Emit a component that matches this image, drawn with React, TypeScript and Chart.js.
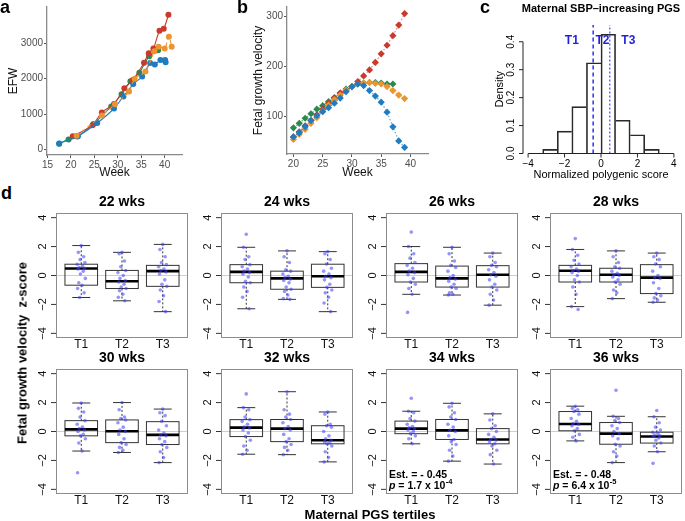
import React, { useEffect, useRef } from "react";
import { Chart, registerables } from "chart.js";

Chart.register(...registerables);

const FONT = '"Liberation Sans", Arial, Helvetica, sans-serif';
Chart.defaults.font.family = FONT;

// ---------- colours ----------
const RED = "#C9392C";
const ORANGE = "#EC9430";
const GREEN = "#2A8A4E";
const BLUE = "#1F7CC0";

// ---------- panel a : EFW ----------
const A_XTICKS = [15, 20, 25, 30, 35, 40];
const A_YTICKS = [0, 1000, 2000, 3000];
const A_WEEK_RED = [20.4, 24.6, 26.6, 29.2, 31.4, 33.2, 35.6, 36.6, 37.6, 38.9, 39.8, 40.8];
const A_EFW_RED = [375, 690, 1050, 1290, 1730, 1960, 2450, 2720, 2850, 3350, 3410, 3800];
const A_WEEK_ORANGE = [21.2, 26.6, 29.4, 32.4, 33.6, 35.9, 37.8, 38.7, 40.0, 40.9, 41.5];
const A_EFW_ORANGE = [390, 960, 1280, 1640, 2000, 2200, 2770, 2900, 2850, 3180, 2900];
const A_WEEK_BLUE = [17.5, 21.5, 25.6, 29.2, 31.2, 33.3, 35.2, 36.9, 37.9, 39.1, 40.1, 40.2];
const A_EFW_BLUE = [175, 380, 750, 1160, 1500, 1850, 2060, 2440, 2400, 2530, 2530, 2460];
const A_WEEK_GREEN = [17.5, 19.5, 21.3, 24.8, 28.6, 30.8, 32.7, 34.6, 36.7, 38.6];
const A_EFW_GREEN = [170, 290, 370, 720, 1220, 1560, 1930, 2170, 2630, 2800];

// ---------- panel b : fetal growth velocity ----------
const B_XTICKS = [20, 25, 30, 35, 40];
const B_YTICKS = [100, 200, 300];
const B_WEEKS = [20, 21, 22, 23, 24, 25, 26, 27, 28, 29, 30, 31, 32, 33, 34, 35, 36, 37, 38, 39];
const B_RED = [60, 70, 82, 93, 104, 115, 127, 137, 147, 152, 160, 170, 181, 193, 208, 225, 242, 261, 282, 305];
const B_ORANGE = [55, 65, 75, 87, 98, 111, 123, 134, 143, 153, 160, 165, 167, 168, 166, 165, 160, 152, 143, 136];
const B_GREEN = [78, 87, 97, 106, 115, 122, 130, 138, 147, 155, 160, 165, 167, 168, 168, 167, 165, 165];
const B_BLUE = [60, 68, 80, 92, 102, 110, 118, 127, 137, 150, 160, 165, 162, 152, 141, 129, 109, 80, 52, 39];

// ---------- panel c : histogram ----------
const C_TITLE = "Maternal SBP\u2013increasing PGS";
const C_BIN_MID = [-2.8, -2.0, -1.2, -0.4, 0.4, 1.2, 2.0, 2.8];
const C_DENSITY = [0.015, 0.08, 0.168, 0.325, 0.427, 0.119, 0.067, 0.015];
const C_TERTILE_CUTS = [-0.43, 0.48];
const C_XTICKS = [-4, -2, 0, 2, 4];
const C_YTICKS = [0, 0.1, 0.2, 0.3, 0.4];
const C_YMAX = 0.46;
const C_TLABEL_X = [-1.6, 0.08, 1.5];
const C_TLABEL_Y = 0.404;

// ---------- panel d : boxplots ----------
const TERTILES = ["T1", "T2", "T3"];
const BOX_YTICKS = [-4, -2, 0, 2, 4];
// [lower whisker, Q1, median, Q3, upper whisker]
const BOX_22 = [[-1.52, -0.67, 0.48, 0.78, 2.07], [-1.75, -0.9, -0.4, 0.35, 1.6], [-2.5, -0.75, 0.3, 0.7, 2.15]];
const BOX_24 = [[-2.3, -0.5, 0.25, 0.75, 1.95], [-1.65, -0.95, -0.2, 0.3, 1.7], [-2.5, -0.82, -0.05, 0.78, 1.65]];
const BOX_26 = [[-1.3, -0.45, 0.25, 0.82, 2.0], [-1.35, -0.8, -0.2, 0.65, 1.95], [-2.05, -0.8, 0.05, 0.68, 1.55]];
const BOX_28 = [[-2.15, -0.45, 0.33, 0.7, 1.8], [-1.6, -0.45, 0.05, 0.5, 1.7], [-1.85, -1.25, -0.15, 0.75, 1.55]];
const BOX_30 = [[-1.35, -0.3, 0.15, 0.75, 1.97], [-1.45, -0.77, 0.02, 0.8, 2.0], [-2.15, -0.9, -0.23, 0.68, 1.55]];
const BOX_32 = [[-1.57, -0.35, 0.27, 0.82, 1.65], [-1.6, -0.7, 0.2, 0.83, 2.75], [-2.1, -0.85, -0.6, 0.4, 1.35]];
const BOX_34 = [[-0.85, -0.15, 0.2, 0.72, 1.4], [-2.05, -0.55, 0.08, 0.83, 1.95], [-2.25, -0.85, -0.55, 0.2, 1.22]];
const BOX_36 = [[-0.65, 0.05, 0.52, 1.38, 1.75], [-2.15, -0.88, -0.15, 0.62, 1.05], [-1.4, -0.8, -0.35, -0.05, 1.02]];

const PTS_22 = [
  [2.07, 1.6, 1.3, 1.1, 0.9, 0.78, 0.65, 0.55, 0.5, 0.45, 0.3, 0.1, -0.2, -0.5, -0.67, -0.9, -1.2, -1.52],
  [1.6, 1.5, 1.0, 0.6, 0.35, 0.2, 0.0, -0.2, -0.35, -0.45, -0.6, -0.8, -0.9, -1.05, -1.3, -1.5, -1.75],
  [2.15, 1.8, 1.3, 0.9, 0.75, 0.6, 0.45, 0.35, 0.25, 0.1, -0.3, -0.6, -0.75, -1.0, -1.4, -1.8, -2.5],
];
const PTS_24 = [
  [2.85, 1.95, 1.3, 1.1, 0.75, 0.6, 0.45, 0.3, 0.2, 0.1, -0.1, -0.4, -0.5, -0.8, -1.1, -1.5, -2.3],
  [1.7, 1.3, 0.9, 0.4, 0.3, 0.1, -0.05, -0.15, -0.25, -0.35, -0.5, -0.8, -0.95, -1.1, -1.35, -1.6, -1.65],
  [1.65, 1.5, 1.1, 0.8, 0.5, 0.3, 0.1, -0.05, -0.15, -0.3, -0.6, -0.82, -1.0, -1.2, -1.5, -1.9, -2.5],
];
const PTS_26 = [
  [3.0, 2.0, 1.5, 1.2, 0.9, 0.7, 0.5, 0.3, 0.2, 0.05, -0.2, -0.45, -0.6, -0.9, -1.3, -2.55],
  [1.95, 1.5, 1.0, 0.7, 0.55, 0.3, 0.0, -0.15, -0.25, -0.4, -0.6, -0.8, -0.9, -1.2, -1.3, -1.35],
  [1.55, 1.3, 0.9, 0.7, 0.6, 0.4, 0.2, 0.05, -0.05, -0.3, -0.6, -0.8, -1.0, -1.3, -1.7, -2.05],
];
const PTS_28 = [
  [2.55, 1.8, 1.4, 1.05, 0.8, 0.6, 0.45, 0.35, 0.3, 0.2, 0.0, -0.3, -0.45, -0.8, -1.3, -2.15, -2.35],
  [1.7, 1.3, 0.9, 0.6, 0.5, 0.3, 0.15, 0.05, 0.0, -0.1, -0.3, -0.45, -0.6, -1.0, -1.2, -1.6],
  [1.55, 1.3, 1.1, 0.8, 0.6, 0.3, 0.0, -0.15, -0.2, -0.5, -0.9, -1.25, -1.4, -1.55, -1.7, -1.85],
];
const PTS_30 = [
  [1.97, 1.6, 1.35, 1.0, 0.75, 0.5, 0.3, 0.2, 0.1, 0.0, -0.2, -0.3, -0.5, -0.8, -1.35, -2.85],
  [2.0, 1.5, 1.0, 0.9, 0.8, 0.6, 0.3, 0.1, 0.0, -0.2, -0.5, -0.77, -0.9, -1.1, -1.3, -1.45],
  [1.55, 1.3, 1.1, 0.7, 0.4, 0.1, -0.1, -0.23, -0.3, -0.5, -0.7, -0.9, -1.1, -1.4, -1.8, -2.15],
];
const PTS_32 = [
  [2.6, 1.65, 1.5, 1.0, 0.82, 0.7, 0.5, 0.3, 0.25, 0.1, -0.1, -0.35, -0.6, -1.0, -1.3, -1.57],
  [2.75, 1.5, 1.2, 1.0, 0.83, 0.6, 0.35, 0.2, 0.1, -0.2, -0.5, -0.7, -0.9, -1.1, -1.3, -1.6],
  [1.35, 1.2, 0.5, 0.4, 0.3, 0.0, -0.3, -0.5, -0.6, -0.7, -0.8, -0.85, -1.0, -1.4, -1.8, -2.1],
];
const PTS_34 = [
  [2.3, 1.4, 1.3, 0.9, 0.72, 0.5, 0.35, 0.25, 0.2, 0.1, 0.0, -0.15, -0.3, -0.5, -0.85],
  [1.95, 1.7, 1.3, 1.0, 0.83, 0.5, 0.3, 0.08, 0.0, -0.3, -0.55, -0.7, -0.9, -1.3, -1.7, -2.05],
  [1.22, 0.8, 0.4, 0.2, 0.0, -0.2, -0.4, -0.55, -0.6, -0.7, -0.85, -1.0, -1.3, -1.6, -2.25],
];
const PTS_36 = [
  [1.75, 1.6, 1.5, 1.38, 1.2, 0.9, 0.7, 0.55, 0.5, 0.4, 0.2, 0.05, -0.2, -0.4, -0.65],
  [2.85, 1.05, 0.9, 0.75, 0.62, 0.4, 0.2, 0.0, -0.15, -0.3, -0.5, -0.88, -1.0, -1.4, -1.7, -2.15],
  [1.45, 1.02, 0.6, 0.3, 0.1, -0.05, -0.15, -0.25, -0.3, -0.35, -0.45, -0.6, -0.8, -1.0, -1.4, -2.2],
];
const EST_34 = "Est. = - 0.45";
const P_34 = [" = 1.7 x 10", "-4"];
const EST_36 = "Est. = - 0.48";
const P_36 = [" = 6.4 x 10", "-5"];

// ---------- layout / style constants ----------
const JITTER = [0, -0.07, 0.06, -0.03, 0.09, -0.1, 0.03, -0.05, 0.08, -0.08, 0.05, -0.02, 0.1, -0.06, 0.02, -0.09, 0.07, -0.04];
const BOX_HALF = 0.4;
const CAP_HALF = 0.22;
const D_LEFTS = [56, 221, 386, 550];
const D_TOPS = [213, 369];
const D_W = 135;
const D_H = 125;
const PAD_L = 34;
const PAD_T = 24;
const PAD_R = 1;
const PAD_B = 16;

const D_PANELS = [
  { title: "22 wks", stats: BOX_22, pts: PTS_22 },
  { title: "24 wks", stats: BOX_24, pts: PTS_24 },
  { title: "26 wks", stats: BOX_26, pts: PTS_26 },
  { title: "28 wks", stats: BOX_28, pts: PTS_28 },
  { title: "30 wks", stats: BOX_30, pts: PTS_30 },
  { title: "32 wks", stats: BOX_32, pts: PTS_32 },
  { title: "34 wks", stats: BOX_34, pts: PTS_34, est: EST_34, p: P_34 },
  { title: "36 wks", stats: BOX_36, pts: PTS_36, est: EST_36, p: P_36 },
];

function seg(ctx: CanvasRenderingContext2D, x1: number, y1: number, x2: number, y2: number) {
  ctx.beginPath();
  ctx.moveTo(x1, y1);
  ctx.lineTo(x2, y2);
  ctx.stroke();
}

function rotText(ctx: CanvasRenderingContext2D, t: string, x: number, y: number) {
  ctx.save();
  ctx.translate(x, y);
  ctx.rotate(-Math.PI / 2);
  ctx.textAlign = "center";
  ctx.textBaseline = "middle";
  ctx.fillText(t, 0, 0);
  ctx.restore();
}

function ggX(min: number, max: number, ticks: number[], title: string, height: number) {
  return {
    type: "linear",
    min,
    max,
    afterBuildTicks: (s: any) => {
      s.ticks = ticks.map((v) => ({ value: v }));
    },
    afterFit: (s: any) => {
      s.height = height;
    },
    grid: { drawOnChartArea: false, drawTicks: true, tickLength: 3, tickColor: "#555", tickWidth: 1 },
    border: { display: true, color: "#8a8a8a", width: 1.3 },
    ticks: { color: "#4d4d4d", font: { size: 10 }, padding: 1, maxRotation: 0, autoSkip: false, callback: (v: any) => String(v) },
    title: { display: true, text: title, color: "#111", font: { size: 12 }, padding: { top: 0, bottom: 0 } },
  };
}

function ggY(min: number, max: number, ticks: number[], title: string, width: number, titlePad: number) {
  return {
    type: "linear",
    min,
    max,
    afterBuildTicks: (s: any) => {
      s.ticks = ticks.map((v) => ({ value: v }));
    },
    afterFit: (s: any) => {
      s.width = width;
    },
    grid: { drawOnChartArea: false, drawTicks: true, tickLength: 3, tickColor: "#555", tickWidth: 1 },
    border: { display: true, color: "#8a8a8a", width: 1.3 },
    ticks: { color: "#4d4d4d", font: { size: 10 }, padding: 1, autoSkip: false, callback: (v: any) => String(v) },
    title: { display: true, text: title, color: "#111", font: { size: 12 }, padding: { top: titlePad, bottom: 0 } },
  };
}

const baseOpts = {
  animation: false,
  responsive: true,
  maintainAspectRatio: false,
  events: [],
};

function makeA() {
  const series = [
    { wk: A_WEEK_ORANGE, v: A_EFW_ORANGE, c: ORANGE, dash: [4, 3] },
    { wk: A_WEEK_BLUE, v: A_EFW_BLUE, c: BLUE, dash: [] },
    { wk: A_WEEK_RED, v: A_EFW_RED, c: RED, dash: [] },
    { wk: A_WEEK_GREEN, v: A_EFW_GREEN, c: GREEN, dash: [] },
  ];
  return {
    type: "scatter",
    data: {
      datasets: series.map((s) => ({
        data: s.wk.map((x, i) => ({ x, y: s.v[i] })),
        showLine: true,
        borderColor: s.c,
        backgroundColor: s.c,
        borderWidth: 1.1,
        borderDash: s.dash,
        tension: 0.3,
        pointRadius: 3,
        pointBorderWidth: 0,
      })),
    },
    options: {
      ...baseOpts,
      layout: { padding: { top: 5, right: 43, left: 0, bottom: 0 } },
      plugins: { legend: { display: false }, tooltip: { enabled: false } },
      scales: {
        x: ggX(14.9, 43.7, A_XTICKS, "Week", 25),
        y: ggY(-150, 4020, A_YTICKS, "EFW", 47, 6),
      },
    },
  };
}

function makeB() {
  const series = [
    { v: B_BLUE, c: BLUE, a: "rgba(31,124,192,0.7)" },
    { v: B_ORANGE, c: ORANGE, a: "rgba(236,148,48,0.7)" },
    { v: B_RED, c: RED, a: "rgba(201,57,44,0.6)" },
    { v: B_GREEN, c: GREEN, a: "rgba(42,138,78,0.7)" },
  ];
  return {
    type: "scatter",
    data: {
      datasets: series.map((s) => ({
        data: s.v.map((y, i) => ({ x: B_WEEKS[i], y })),
        showLine: true,
        borderColor: s.a,
        backgroundColor: s.c,
        borderWidth: 1.2,
        borderDash: [1.5, 2],
        pointStyle: "rectRot",
        pointRadius: 3.6,
        pointBorderWidth: 0,
      })),
    },
    options: {
      ...baseOpts,
      layout: { padding: { top: 6, right: 27, left: 0, bottom: 0 } },
      plugins: { legend: { display: false }, tooltip: { enabled: false } },
      scales: {
        x: ggX(18.9, 43, B_XTICKS, "Week", 26),
        y: ggY(26, 318, B_YTICKS, "Fetal growth velocity", 62, 26),
      },
    },
  };
}

const histPlugin = {
  id: "histAxes",
  afterDraw(chart: any) {
    const { ctx, chartArea: ca } = chart;
    const xs = chart.scales.x;
    const ys = chart.scales.y;
    ctx.save();
    ctx.fillStyle = "#000";
    ctx.strokeStyle = "#222";
    ctx.lineWidth = 1;
    ctx.font = `bold 11px ${FONT}`;
    ctx.textAlign = "center";
    ctx.textBaseline = "middle";
    ctx.fillText(C_TITLE, (ca.left + ca.right) / 2, 8.5);
    const by = ca.bottom;
    seg(ctx, xs.getPixelForValue(C_XTICKS[0]), by, xs.getPixelForValue(C_XTICKS[C_XTICKS.length - 1]), by);
    ctx.font = `10px ${FONT}`;
    C_XTICKS.forEach((v) => {
      const px = xs.getPixelForValue(v);
      seg(ctx, px, by, px, by + 4);
      ctx.fillText(v < 0 ? "\u2212" + Math.abs(v) : String(v), px, by + 10.5);
    });
    seg(ctx, ca.left, ys.getPixelForValue(C_YTICKS[0]), ca.left, ys.getPixelForValue(C_YTICKS[C_YTICKS.length - 1]));
    C_YTICKS.forEach((v) => {
      const py = ys.getPixelForValue(v);
      seg(ctx, ca.left - 4, py, ca.left, py);
      rotText(ctx, v.toFixed(1), ca.left - 11.5, py);
    });
    ctx.font = `11px ${FONT}`;
    rotText(ctx, "Density", 45, (ca.top + ca.bottom) / 2);
    ctx.fillText("Normalized polygenic score", (ca.left + ca.right) / 2, 175);
    ctx.fillStyle = "#1f1fe0";
    ctx.font = `bold 12px ${FONT}`;
    TERTILES.forEach((t, i) => {
      ctx.fillText(t, xs.getPixelForValue(C_TLABEL_X[i]), ys.getPixelForValue(C_TLABEL_Y));
    });
    ctx.restore();
  },
};

function makeC() {
  const last = C_DENSITY.length - 1;
  return {
    type: "bar",
    data: {
      datasets: [
        {
          type: "bar",
          data: C_BIN_MID.map((x, i) => ({ x, y: C_DENSITY[i] })),
          backgroundColor: "rgba(255,255,255,0)",
          borderColor: "#2a2a2a",
          borderSkipped: false,
          borderWidth: (c: any) => {
            const i = c.dataIndex;
            const d = C_DENSITY;
            return {
              top: 1,
              bottom: 0,
              left: i === 0 || d[i] >= d[i - 1] ? 1 : 0,
              right: i === last || d[i] > d[i + 1] ? 1 : 0,
            };
          },
          barPercentage: 1,
          categoryPercentage: 1,
        },
        ...C_TERTILE_CUTS.map((c, i) => ({
          type: "line",
          data: [
            { x: c, y: 0 },
            { x: c, y: C_YMAX },
          ],
          borderColor: i === 0 ? "#2f2ff5" : "#6a6aff",
          borderWidth: 1.5,
          borderDash: i === 0 ? [4, 3] : [2, 2],
          pointRadius: 0,
        })),
      ],
    },
    options: {
      ...baseOpts,
      layout: { padding: { top: 25, right: 6, left: 68, bottom: 26.5 } },
      plugins: { legend: { display: false }, tooltip: { enabled: false } },
      scales: {
        x: { type: "linear", min: -4.28, max: 4.28, display: false, offset: false },
        y: { type: "linear", min: 0, max: C_YMAX, display: false },
      },
    },
    plugins: [histPlugin],
  };
}

function boxPlugin(p: any) {
  return {
    id: "boxPanel",
    beforeDatasetsDraw(chart: any) {
      const { ctx, chartArea: ca } = chart;
      const xs = chart.scales.x;
      const ys = chart.scales.y;
      ctx.save();
      const y0 = ys.getPixelForValue(0);
      ctx.strokeStyle = "#cfcfcf";
      ctx.lineWidth = 1;
      seg(ctx, ca.left, y0, ca.right, y0);
      p.stats.forEach((s: number[], i: number) => {
        const [lo, q1, med, q3, hi] = s;
        const g = i + 1;
        const cx = xs.getPixelForValue(g);
        const bl = xs.getPixelForValue(g - BOX_HALF);
        const br = xs.getPixelForValue(g + BOX_HALF);
        const cl = xs.getPixelForValue(g - CAP_HALF);
        const cr = xs.getPixelForValue(g + CAP_HALF);
        const pLo = ys.getPixelForValue(lo);
        const pQ1 = ys.getPixelForValue(q1);
        const pMed = ys.getPixelForValue(med);
        const pQ3 = ys.getPixelForValue(q3);
        const pHi = ys.getPixelForValue(hi);
        ctx.strokeStyle = "#333";
        ctx.lineWidth = 1;
        ctx.setLineDash([2, 2]);
        seg(ctx, cx, pQ3, cx, pHi);
        seg(ctx, cx, pQ1, cx, pLo);
        ctx.setLineDash([]);
        seg(ctx, cl, pHi, cr, pHi);
        seg(ctx, cl, pLo, cr, pLo);
        ctx.strokeRect(bl, pQ3, br - bl, pQ1 - pQ3);
        ctx.strokeStyle = "#000";
        ctx.lineWidth = 2.6;
        seg(ctx, bl, pMed, br, pMed);
      });
      ctx.restore();
    },
    afterDraw(chart: any) {
      const { ctx, chartArea: ca } = chart;
      const xs = chart.scales.x;
      const ys = chart.scales.y;
      ctx.save();
      ctx.strokeStyle = "#8c8c8c";
      ctx.lineWidth = 1;
      ctx.strokeRect(ca.left + 0.5, ca.top + 0.5, ca.right - ca.left - 1, ca.bottom - ca.top - 1);
      ctx.strokeStyle = "#333";
      ctx.fillStyle = "#111";
      ctx.font = `11px ${FONT}`;
      BOX_YTICKS.forEach((v) => {
        const py = ys.getPixelForValue(v);
        seg(ctx, ca.left - 5, py, ca.left, py);
        rotText(ctx, v < 0 ? "\u2212" + Math.abs(v) : String(v), ca.left - 13, py);
      });
      ctx.textAlign = "center";
      ctx.textBaseline = "middle";
      ctx.font = `12px ${FONT}`;
      TERTILES.forEach((t, i) => {
        ctx.fillText(t, xs.getPixelForValue(i + 1), ca.bottom + 7);
      });
      ctx.fillStyle = "#000";
      ctx.font = `bold 14px ${FONT}`;
      ctx.fillText(p.title, (ca.left + ca.right) / 2, ca.top - 10.5);
      if (p.est) {
        ctx.textAlign = "left";
        ctx.font = `bold 10.5px ${FONT}`;
        const x0 = ca.left + 3;
        ctx.fillText(p.est, x0, ca.bottom - 19);
        const yb = ca.bottom - 8.3;
        ctx.font = `italic bold 10.5px ${FONT}`;
        ctx.fillText("p", x0, yb);
        let xx = x0 + ctx.measureText("p").width;
        ctx.font = `bold 10.5px ${FONT}`;
        ctx.fillText(p.p[0], xx, yb);
        xx += ctx.measureText(p.p[0]).width + 0.5;
        ctx.font = `bold 7.5px ${FONT}`;
        ctx.fillText(p.p[1], xx, yb - 3.5);
      }
      ctx.restore();
    },
  };
}

function makeBox(p: any) {
  return () => ({
    type: "scatter",
    data: {
      datasets: [
        {
          data: p.pts.flatMap((g: number[], gi: number) =>
            g.map((v, j) => ({ x: gi + 1 + JITTER[j % JITTER.length], y: v }))
          ),
          pointRadius: 1.8,
          backgroundColor: "rgba(60,60,250,0.55)",
          pointBorderWidth: 0,
        },
      ],
    },
    options: {
      ...baseOpts,
      layout: { padding: { top: PAD_T, left: PAD_L, right: PAD_R, bottom: PAD_B } },
      plugins: { legend: { display: false }, tooltip: { enabled: false } },
      scales: {
        x: { type: "linear", min: 0.38, max: 3.62, display: false },
        y: { type: "linear", min: -4.32, max: 4.32, display: false },
      },
    },
    plugins: [boxPlugin(p)],
  });
}

const BOX_MAKERS = D_PANELS.map((p) => makeBox(p));

function ChartPanel({ x, y, w, h, make }: { x: number; y: number; w: number; h: number; make: () => any }) {
  const ref = useRef<HTMLCanvasElement | null>(null);
  useEffect(() => {
    if (!ref.current) return;
    const chart = new Chart(ref.current, make());
    return () => chart.destroy();
  }, [make]);
  return (
    <div style={{ position: "absolute", left: x, top: y, width: w, height: h }}>
      <canvas ref={ref} />
    </div>
  );
}

const labelStyle: React.CSSProperties = {
  position: "absolute",
  fontFamily: FONT,
  fontWeight: "bold",
  lineHeight: "1",
  color: "#000",
  whiteSpace: "pre",
};

export default function App() {
  return (
    <div
      style={{
        position: "absolute",
        left: 0,
        top: 0,
        width: 685,
        height: 521,
        overflow: "hidden",
        background: "#fff",
      }}
    >
      <ChartPanel x={0} y={0} w={225} h={180} make={makeA} />
      <ChartPanel x={225} y={0} w={230} h={180} make={makeB} />
      <ChartPanel x={455} y={0} w={230} h={180} make={makeC} />
      {D_PANELS.map((p, i) => {
        const col = i % 4;
        const row = Math.floor(i / 4);
        return (
          <ChartPanel
            key={p.title}
            x={D_LEFTS[col] - PAD_L}
            y={D_TOPS[row] - PAD_T}
            w={PAD_L + D_W + PAD_R}
            h={PAD_T + D_H + PAD_B}
            make={BOX_MAKERS[i]}
          />
        );
      })}
      <div style={{ ...labelStyle, left: 0, top: -2, fontSize: 18 }}>a</div>
      <div style={{ ...labelStyle, left: 237, top: -2, fontSize: 18 }}>b</div>
      <div style={{ ...labelStyle, left: 480, top: -2, fontSize: 18 }}>c</div>
      <div style={{ ...labelStyle, left: 1, top: 184, fontSize: 18 }}>d</div>
      <div
        style={{
          ...labelStyle,
          left: 22,
          top: 353,
          fontSize: 13,
          transform: "translate(-50%, -50%) rotate(-90deg)",
        }}
      >
        {"Fetal growth velocity  z-score"}
      </div>
      <div
        style={{
          ...labelStyle,
          left: 370,
          top: 514,
          fontSize: 13,
          transform: "translate(-50%, -50%)",
        }}
      >
        Maternal PGS tertiles
      </div>
    </div>
  );
}
